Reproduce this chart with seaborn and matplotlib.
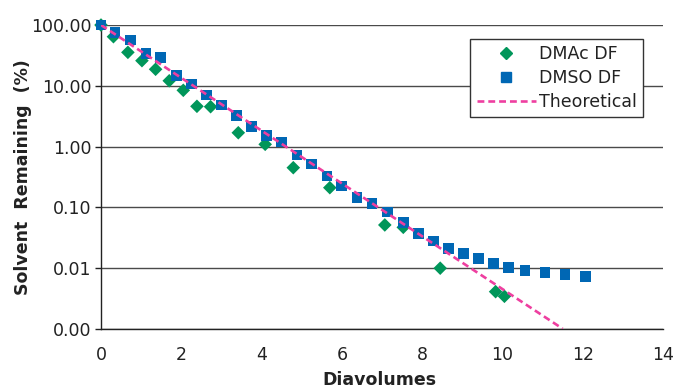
import matplotlib
matplotlib.use("Agg")
import matplotlib.pyplot as plt
import seaborn as sns
import pandas as pd
from matplotlib.lines import Line2D

# ---- data ----
dmac_x = [0, 0.31, 0.67, 1.02, 1.36, 1.70, 2.05, 2.39, 2.73, 3.42, 4.09, 4.79, 5.70, 7.07, 7.53, 8.45, 9.83, 10.05]
dmac_y = [100, 64.2, 35.5, 25.9, 18.7, 12.1, 8.43, 4.6, 4.53, 1.69, 1.09, 0.45, 0.211, 0.0514, 0.047, 0.0100, 0.00411, 0.00345]

dmso_x = [0, 0.35, 0.73, 1.12, 1.48, 1.88, 2.25, 2.63, 3.00, 3.38, 3.75, 4.13, 4.50, 4.88, 5.25, 5.63,
          6.00, 6.38, 6.75, 7.13, 7.53, 7.90, 8.28, 8.65, 9.03, 9.40, 9.78, 10.16, 10.56, 11.06, 11.56, 12.06]
dmso_y = [100, 74.7, 56.6, 34.3, 29.4, 14.9, 10.7, 7.06, 4.83, 3.27, 2.16, 1.53, 1.19, 0.728, 0.518, 0.328,
          0.225, 0.147, 0.117, 0.084, 0.0569, 0.0375, 0.028, 0.0212, 0.0176, 0.0146, 0.0121, 0.0103, 0.0092,
          0.00857, 0.00794, 0.00736]

theo_x = [0, 2, 4, 6, 8, 10, 11.5]
theo_y = [100, 13.5, 1.83, 0.248, 0.0335, 0.00454, 0.00101]

x_ticks = [0, 2, 4, 6, 8, 10, 12, 14]
y_ticks = [0.001, 0.01, 0.1, 1, 10, 100]
y_tick_labels = ["0.00", "0.01", "0.10", "1.00", "10.00", "100.00"]

series_names = ["DMAc DF", "DMSO DF", "Theoretical"]
colors = {"DMAc DF": "#00965a", "DMSO DF": "#0067b4", "Theoretical": "#ee3fa0"}

df_dmac = pd.DataFrame({"x": dmac_x, "y": dmac_y})
df_dmso = pd.DataFrame({"x": dmso_x, "y": dmso_y})
df_theo = pd.DataFrame({"x": theo_x, "y": theo_y})

sns.set_theme(style="white")
plt.rcParams["font.family"] = ["DejaVu Sans"]

fig = plt.figure(figsize=(6.76, 3.90), dpi=100)
ax = fig.add_axes([101 / 676, 1 - 329 / 390, 562 / 676, 304 / 390])

ax.set_yscale("log")
ax.set_xlim(0, 14)
ax.set_ylim(0.001, 100)

for yv in y_ticks:
    ax.axhline(yv, color="#4a4a4a", lw=1.0, zorder=1)

sns.scatterplot(data=df_dmac, x="x", y="y", ax=ax, marker="D", s=48, color=colors["DMAc DF"],
                edgecolor="none", linewidth=0, zorder=3, clip_on=False, legend=False)
sns.scatterplot(data=df_dmso, x="x", y="y", ax=ax, marker="s", s=60, color=colors["DMSO DF"],
                edgecolor="none", linewidth=0, zorder=4, clip_on=False, legend=False)
sns.lineplot(data=df_theo, x="x", y="y", ax=ax, color=colors["Theoretical"], lw=1.9,
             linestyle=(0, (2.6, 1.5)), zorder=5, legend=False)

ax.set_xticks(x_ticks)
ax.set_xticklabels([str(t) for t in x_ticks])
ax.set_yticks(y_ticks)
ax.set_yticklabels(y_tick_labels)
ax.minorticks_off()
ax.yaxis.set_minor_locator(matplotlib.ticker.NullLocator())

ax.tick_params(axis="y", which="major", left=True, length=4, width=1, color="#222222",
               labelsize=12.5, labelcolor="#222222", pad=3)
ax.tick_params(axis="x", which="major", bottom=False, length=0,
               labelsize=12.5, labelcolor="#222222", pad=12)

for side in ["top", "right"]:
    ax.spines[side].set_visible(False)
for side in ["left", "bottom"]:
    ax.spines[side].set_color("#222222")
    ax.spines[side].set_linewidth(1.0)

ax.set_xlabel("Diavolumes", fontsize=12.5, fontweight="bold", color="#222222")
ax.set_ylabel("Solvent  Remaining  (%)", fontsize=12.5, fontweight="bold", color="#222222")
ax.xaxis.set_label_coords(0.495, -0.138)
ax.yaxis.set_label_coords(-0.123, 0.5)

handles = [
    Line2D([], [], marker="D", color=colors["DMAc DF"], linestyle="none", markersize=6),
    Line2D([], [], marker="s", color=colors["DMSO DF"], linestyle="none", markersize=7),
    Line2D([], [], color=colors["Theoretical"], lw=1.9, linestyle=(0, (2.6, 1.5))),
]
leg = fig.legend(handles, series_names, loc="upper right", bbox_to_anchor=(643 / 676, 1 - 39 / 390),
                 bbox_transform=fig.transFigure, borderaxespad=0, fontsize=12.5, frameon=True,
                 fancybox=False, edgecolor="#333333", framealpha=1, handlelength=3.4,
                 handletextpad=0.2, labelspacing=0.35, borderpad=0.35)
leg.get_frame().set_linewidth(1.0)
for t in leg.get_texts():
    t.set_color("#222222")

fig.savefig("out.png", dpi=100)
